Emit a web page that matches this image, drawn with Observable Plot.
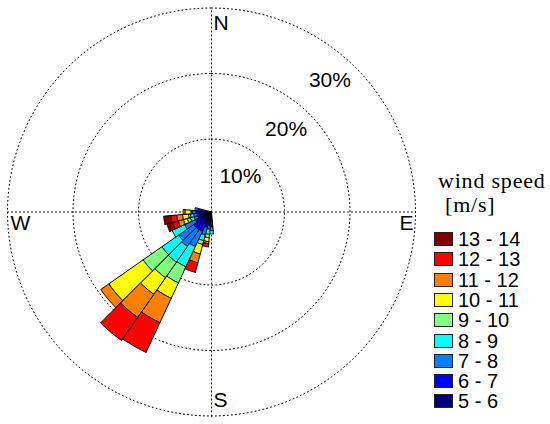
<!DOCTYPE html>
<html><head><meta charset="utf-8">
<script src="https://cdn.jsdelivr.net/npm/d3@7"></script>
<script src="https://cdn.jsdelivr.net/npm/@observablehq/plot@0.6"></script>
<style>
html,body{margin:0;padding:0;background:#fff;}
#wrap{position:relative;width:550px;height:424px;overflow:hidden;background:#fff;}
#chart{position:absolute;left:0;top:0;}
#legend{position:absolute;left:0;top:0;width:550px;height:424px;}
.lt{position:absolute;font-family:"Liberation Serif",serif;font-size:22px;letter-spacing:0.8px;color:#000;white-space:nowrap;line-height:1;}
.row{position:absolute;left:434px;height:20px;display:flex;align-items:center;white-space:nowrap;}
.sw{width:17px;height:12px;border:1px solid #222;margin-right:5px;flex:none;}
.lab{font-family:"Liberation Sans",Arial,sans-serif;font-size:20px;line-height:18px;color:#000;}
</style></head><body>
<div id="wrap"><div id="chart"></div><div id="legend"></div></div>
<script>
// ---- data ----
const directions = [180, 190, 200, 210, 220, 230, 240, 250, 260, 270, 280]; // sector centres, degrees from N
const speedBins = ["5 - 6","6 - 7","7 - 8","8 - 9","9 - 10","10 - 11","11 - 12","12 - 13","13 - 14"];
const binColors = ["#00007f","#0000ff","#0080ff","#00ffff","#80ff80","#ffff00","#ff8000","#ff0000","#800000"];
// frequency (%) per direction for each speed bin
const freq5_6   = [0.2, 0.1, 0.2, 0.4, 0.4, 0.4, 0.4, 0.1, 0.1, 0.2, 0.1];
const freq6_7   = [0.9, 0.8, 1.1, 1.7, 1.8, 1.8, 1.2, 0.9, 0.9, 1.1, 0.8];
const freq7_8   = [0.6, 0.6, 1.2, 2.6, 3.1, 2.8, 1.8, 0.6, 0.6, 0.5, 0.5];
const freq8_9   = [0.5, 0.8, 0.9, 3.4, 2.9, 3.1, 2.1, 0.6, 0.5, 0.1, 0.0];
const freq9_10  = [0.0, 0.5, 0.6, 2.7, 2.9, 3.5, 0.0, 0.5, 0.3, 0.1, 0.0];
const freq10_11 = [0.0, 0.6, 1.5, 2.6, 3.1, 6.4, 0.0, 0.6, 0.9, 0.9, 0.0];
const freq11_12 = [0.0, 0.3, 1.4, 4.1, 4.3, 1.5, 0.0, 0.8, 0.9, 0.3, 0.0];
const freq12_13 = [0.0, 0.5, 1.5, 5.0, 4.3, 0.0, 0.0, 0.9, 0.9, 0.0, 0.0];
const freq13_14 = [0.0, 0.0, 0.0, 0.0, 0.0, 0.0, 0.0, 0.9, 1.1, 0.0, 0.0];
const ringLevels = [10, 20, 30];
const ringLabels = ["10%", "20%", "30%"];
const compassLabels = ["N", "E", "S", "W"];
const legendTitle = "wind speed";
const legendUnit = "[m/s]";

// ---- geometry ----
const W = 550, H = 424;
const cx = 211, cy = 211.5;      // centre in px
const k = 6.55;                  // px per percent
const hole = 7.5 / k;            // radial offset of 0 %
const sectorWidth = 10;
const rad = p => hole + p;
const toXY = (r, deg) => [r * Math.sin(deg * Math.PI / 180), r * Math.cos(deg * Math.PI / 180)];

const freqByBin = [freq5_6, freq6_7, freq7_8, freq8_9, freq9_10, freq10_11, freq11_12, freq12_13, freq13_14];

const polys = [];
directions.forEach((dir, di) => {
  let cum = 0;
  freqByBin.forEach((arr, bi) => {
    const v = arr[di];
    if (!v) return;
    const r0 = cum === 0 ? 0 : rad(cum);
    const r1 = rad(cum + v);
    const a0 = dir - sectorWidth / 2, a1 = dir + sectorWidth / 2;
    const id = dir + "-" + bi;
    const n = 16;
    const pts = [];
    for (let j = 0; j <= n; j++) pts.push(toXY(r1, a0 + (a1 - a0) * j / n));
    if (r0 > 0) { for (let j = n; j >= 0; j--) pts.push(toXY(r0, a0 + (a1 - a0) * j / n)); }
    else pts.push([0, 0]);
    pts.push(pts[0]);
    pts.forEach(p => polys.push({x: p[0], y: p[1], id, bin: bi}));
    cum += v;
  });
});

const ringPts = [];
ringLevels.forEach(l => { for (let a = 0; a <= 360; a += 2) { const p = toXY(rad(l), a); ringPts.push({x: p[0], y: p[1], level: l}); } });
const Rout = rad(ringLevels[ringLevels.length - 1]);
const axisPts = [
  {x: -Rout, y: 0, g: "h"}, {x: Rout, y: 0, g: "h"},
  {x: 0, y: -Rout, g: "v"}, {x: 0, y: Rout, g: "v"}
];
const lblR = 27 / k;
const lblAng = [39, 42, 42];
const ringText = ringLevels.map((l, i) => { const p = toXY(rad(l) - lblR, lblAng[i]); return {x: p[0], y: p[1], t: ringLabels[i]}; });

const fontFam = "'Liberation Sans', Arial, Helvetica, sans-serif";
const compass = [
  {x: 0, y: Rout, t: compassLabels[0], anchor: "start", dx: 2, dy: 7.5},
  {x: Rout, y: 0, t: compassLabels[1], anchor: "end", dx: -2, dy: 3.5},
  {x: 0, y: -Rout, t: compassLabels[2], anchor: "start", dx: 2, dy: -23.5},
  {x: -Rout, y: 0, t: compassLabels[3], anchor: "start", dx: 3, dy: 3.5}
];

const marks = [
  Plot.line(ringPts, {x: "x", y: "y", z: "level", stroke: "#000", strokeWidth: 1, strokeDasharray: "1,3"}),
  Plot.line(axisPts, {x: "x", y: "y", z: "g", stroke: "#000", strokeWidth: 1, strokeDasharray: "1,3"})
];
binColors.forEach((c, bi) => {
  marks.push(Plot.line(polys.filter(d => d.bin === bi), {x: "x", y: "y", z: "id", fill: c, stroke: "#000", strokeWidth: 1, strokeLinejoin: "miter"}));
});
marks.push(Plot.text(ringText, {x: "x", y: "y", text: "t", fontSize: 21, fill: "#000", textAnchor: "middle", lineAnchor: "middle"}));
compass.forEach(c => marks.push(Plot.text([c], {x: "x", y: "y", text: "t", fontSize: 21, fill: "#000", textAnchor: c.anchor, lineAnchor: "top", dx: c.dx, dy: c.dy})));

const chart = Plot.plot({
  width: W, height: H, margin: 0,
  x: {domain: [-cx / k, (W - cx) / k], axis: null},
  y: {domain: [-(H - cy) / k, cy / k], axis: null},
  style: {background: "white", fontFamily: fontFam},
  marks
});
document.getElementById("chart").appendChild(chart);

// ---- legend ----
const leg = document.getElementById("legend");
const t1 = document.createElement("div"); t1.className = "lt"; t1.textContent = legendTitle;
t1.style.left = "438px"; t1.style.top = "170px"; leg.appendChild(t1);
const t2 = document.createElement("div"); t2.className = "lt"; t2.textContent = legendUnit;
t2.style.left = "445px"; t2.style.top = "194px"; leg.appendChild(t2);
const order = speedBins.map((s, i) => i).reverse();
order.forEach((bi, row) => {
  const yc = 239 + 20.3 * row;
  const r = document.createElement("div"); r.className = "row"; r.style.top = (yc - 10) + "px";
  const sw = document.createElement("div"); sw.className = "sw"; sw.style.background = binColors[bi];
  const lb = document.createElement("span"); lb.className = "lab"; lb.textContent = speedBins[bi];
  r.appendChild(sw); r.appendChild(lb); leg.appendChild(r);
});
</script>
</body></html>
